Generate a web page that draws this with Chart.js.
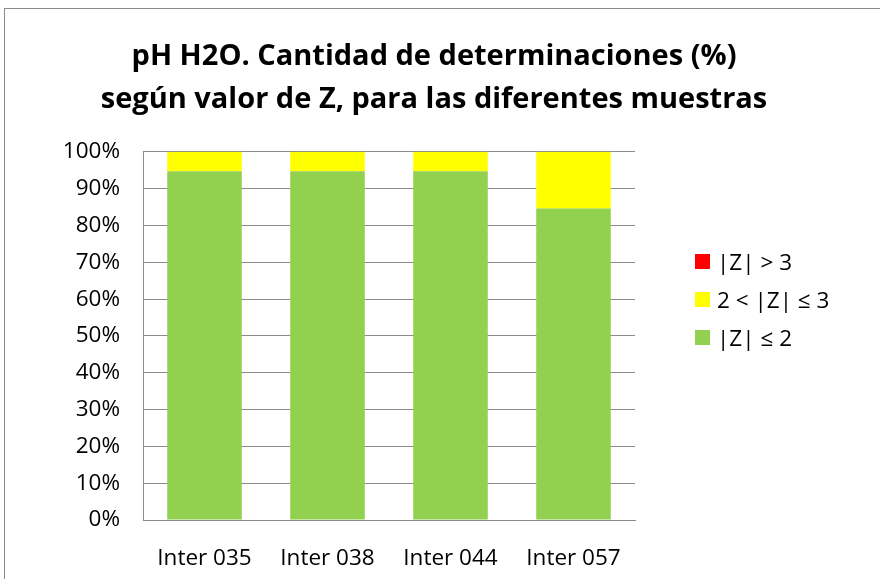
<!DOCTYPE html>
<html>
<head>
<meta charset="utf-8">
<script src="https://cdn.jsdelivr.net/npm/chart.js@4/dist/chart.umd.min.js"></script>
<style>
  html, body { margin: 0; padding: 0; background: #fff; overflow: hidden; }
  #wrap { position: relative; width: 880px; height: 579px; }
  #frame { position: absolute; left: 4px; top: 8px; width: 900px; height: 600px; border: 1px solid #8c8c8c; }
  #chart { position: absolute; left: 0; top: 0; }
  #legend { position: absolute; left: 695px; top: 242px; font-family: "Open Sans", sans-serif; font-size: 22.5px; color: #000; }
  .item { display: flex; align-items: center; height: 38px; }
  .swatch { width: 15px; height: 15px; margin-right: 7px; }
</style>
</head>
<body>
<div id="wrap">
  <div id="frame"></div>
  <canvas id="chart" width="880" height="579"></canvas>
  <div id="legend"></div>
</div>
<script>
const categories = ['Inter 035', 'Inter 038', 'Inter 044', 'Inter 057'];
const zLow = [94.7, 94.7, 94.7, 84.6];   // |Z| ≤ 2
const zMid = [5.3, 5.3, 5.3, 15.4];      // 2 < |Z| ≤ 3
const zHigh = [0, 0, 0, 0];              // |Z| > 3
const seriesLabels = ['|Z| ≤ 2', '2 < |Z| ≤ 3', '|Z| > 3'];
const seriesColors = ['#92D050', '#FFFF00', '#FF0000'];
const titleLines = ['pH H2O. Cantidad de determinaciones (%)', 'según valor de Z, para las diferentes muestras'];

const font = '"Open Sans", sans-serif';

const chart = new Chart(document.getElementById('chart'), {
    type: 'bar',
    data: {
        labels: categories,
        datasets: [
            { label: seriesLabels[0], data: zLow, backgroundColor: seriesColors[0] },
            { label: seriesLabels[1], data: zMid, backgroundColor: seriesColors[1] },
            { label: seriesLabels[2], data: zHigh, backgroundColor: seriesColors[2] }
        ]
    },
    options: {
        responsive: false,
        animation: false,
        layout: { padding: { left: 0, right: 12, top: 0, bottom: 0 } },
        datasets: { bar: { categoryPercentage: 1, barPercentage: 0.606 } },
        scales: {
            x: {
                stacked: true,
                grid: { display: false },
                border: { color: '#8c8c8c', width: 1 },
                ticks: { color: '#000', font: { family: font, size: 22.5 }, padding: 17 },
                afterFit: scale => { scale.height = 59; }
            },
            y: {
                stacked: true,
                min: 0,
                max: 100,
                ticks: {
                    stepSize: 10,
                    color: '#000',
                    font: { family: font, size: 22.5 },
                    padding: 23,
                    callback: v => v + '%'
                },
                grid: { color: '#8c8c8c', drawTicks: false },
                border: { color: '#8c8c8c', width: 1 },
                afterFit: scale => { scale.width = 143; }
            },
            // empty space on the right where the legend sits
            side: {
                position: 'right',
                display: true,
                ticks: { display: false },
                grid: { display: false, drawTicks: false },
                border: { display: false },
                afterFit: scale => { scale.width = 233; }
            }
        },
        plugins: {
            legend: { display: false },
            tooltip: { enabled: false },
            title: {
                display: true,
                text: titleLines,
                color: '#000',
                font: { family: font, size: 29, weight: 'bold', lineHeight: 1.48 },
                padding: { top: 35, bottom: 31 }
            }
        }
    }
});

// legend, top to bottom in reverse series order
const legendBox = document.getElementById('legend');
chart.data.datasets.slice().reverse().forEach(ds => {
    const item = document.createElement('div');
    item.className = 'item';
    item.innerHTML = `<span class="swatch" style="background:${ds.backgroundColor}"></span>${ds.label}`;
    legendBox.appendChild(item);
});
</script>
</body>
</html>
